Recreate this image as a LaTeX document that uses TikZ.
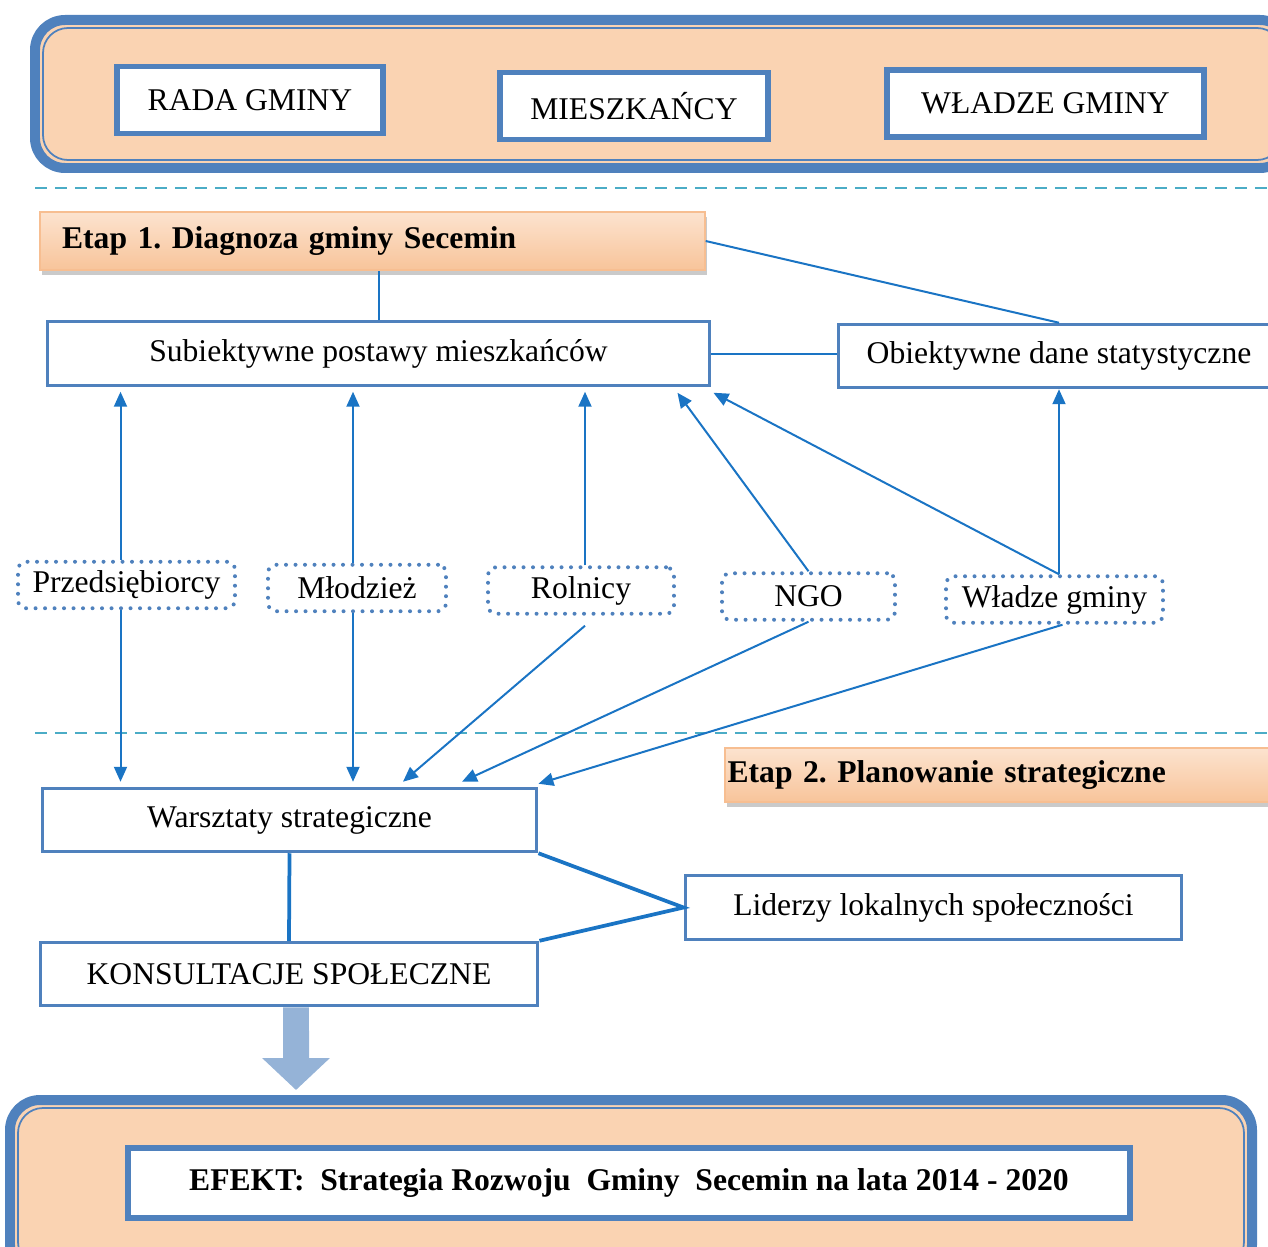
\documentclass[tikz,border=0pt]{standalone}
\usepackage{fontspec}
\setmainfont{Liberation Serif}
\frenchspacing
\usetikzlibrary{arrows.meta,shadows}
\usetikzlibrary{positioning}
\definecolor{boxblue}{HTML}{4F81BD}
\definecolor{linkblue}{HTML}{1A74C4}
\definecolor{peach}{HTML}{FAD3B2}
\definecolor{peachtop}{HTML}{FCE3CF}
\definecolor{peachbot}{HTML}{F8C49A}
\definecolor{etapline}{HTML}{F7BE91}
\definecolor{sepcyan}{HTML}{4BACC6}
\definecolor{bigblue}{HTML}{95B3D7}
\tikzstyle{frame} = [draw=boxblue, line width=0.2cm, fill=peach, rounded corners=0.6cm]
\tikzstyle{frameline} = [draw=boxblue, line width=0.035cm, rounded corners=0.5cm]
\tikzstyle{actor} = [rectangle, draw=boxblue, line width=0.11cm, fill=white, minimum height=1.34cm, text centered, font=\fontsize{18}{21}\selectfont]
\tikzstyle{box} = [rectangle, draw=boxblue, line width=0.06cm, fill=white, minimum height=1.27cm, text centered, font=\fontsize{18}{21}\selectfont]
\tikzstyle{group} = [rectangle, rounded corners=0.16cm, draw=boxblue, line width=0.08cm, dash pattern=on 0pt off 0.19cm, line cap=round, minimum height=0.93cm, text centered, font=\fontsize{18}{21}\selectfont]
\tikzstyle{etap} = [rectangle, draw=etapline, line width=0.03cm, top color=peachtop, middle color=white!85!peachtop, bottom color=peachbot, drop shadow={shadow xshift=0.04cm, shadow yshift=-0.1cm, fill=black!35, opacity=0.6}, minimum height=1.16cm, align=left, font=\bfseries\fontsize{18}{21}\selectfont]
\tikzstyle{sep} = [draw=sepcyan, line width=0.04cm, dash pattern=on 0.24cm off 0.16cm]
\tikzstyle{link} = [draw=linkblue, line width=0.04cm]
\tikzstyle{flow} = [link, -{Triangle[length=0.3cm,width=0.26cm]}]
\tikzstyle{thick link} = [draw=linkblue, line width=0.075cm]

\begin{document}
\begin{tikzpicture}[x=0.02cm, y=-0.02cm]
\useasboundingbox (0,0) rectangle (1268,1247);

% top frame
\draw[frame] (35,20) rectangle (1290,168);
\draw[frameline] (43,28) rectangle (1282,160);
\node (rada) [actor, minimum width=5.32cm] at (250,100) {RADA GMINY};
\node (mieszk) [actor, minimum width=5.36cm] at (634,106) {MIESZKAŃCY};
\node (wladze) [actor, minimum width=6.34cm] at (1045.5,103.5) {WŁADZE GMINY};

\draw[sep] (35,188) -- (1268,188);

% etap 1
\node (etap1) [etap, text width=12.42cm, inner xsep=0.44cm] at (372.5,241) {Etap 1. Diagnoza gminy Secemin};
\node (subj) [box, minimum width=13.26cm] at (378.5,353.5) {Subiektywne postawy mieszkańców};
\node (obj) [box, minimum width=8.84cm] at (1059,356) {Obiektywne dane statystyczne};

\node (przed) [group, minimum width=4.34cm] at (126.5,585) {Przedsiębiorcy};
\node (mlodz) [group, minimum width=3.56cm] at (357,588) {Młodzież};
\node (roln) [group, minimum width=3.72cm] at (581,590.5) {Rolnicy};
\node (ngo) [group, minimum width=3.46cm] at (808.5,596.5) {NGO};
\node (wlgm) [group, minimum width=4.34cm] at (1054.5,599.5) {Władze gminy};

\draw[link] (subj.north) -- (subj.north |- etap1.south);
\draw[link] (etap1.east) -- (obj.north);
\draw[link] (subj.east) -- (subj.east -| obj.west);

\draw[flow] ([xshift=-0.12cm]przed.north) -- ([xshift=-0.12cm,yshift=-0.1cm]przed.north |- subj.south);
\draw[flow] ([xshift=-0.08cm]mlodz.north) -- ([xshift=-0.08cm,yshift=-0.1cm]mlodz.north |- subj.south);
\draw[flow] ([xshift=0.08cm]roln.north) -- ([xshift=0.08cm,yshift=-0.1cm]roln.north |- subj.south);
\draw[flow] (ngo.north) -- ([xshift=-0.68cm,yshift=-0.12cm]subj.south east);
\draw[flow] (wlgm.north -| obj.south) -- ([xshift=0.04cm,yshift=-0.12cm]subj.south east);
\draw[flow] (wlgm.north -| obj.south) -- (obj.south);

\draw[sep] (35,733) -- (1268,733);

% etap 2
\node (etap2) [etap, text width=11cm, inner xsep=0.05cm, minimum height=1.08cm] at (1002.5,775) {Etap 2. Planowanie strategiczne};
\node (warsz) [box, minimum width=9.9cm] at (289.5,820) {Warsztaty strategiczne};
\node (konsul) [box, minimum width=9.96cm] at (289,974) {KONSULTACJE SPOŁECZNE};
\node (lider) [box, minimum width=9.94cm] at (933.5,907.5) {Liderzy lokalnych społeczności};

\draw[flow] ([xshift=-0.12cm]przed.south) -- ([xshift=-0.12cm,yshift=0.1cm]przed.south |- warsz.north);
\draw[flow] ([xshift=-0.08cm]mlodz.south) -- ([xshift=-0.08cm,yshift=0.1cm]mlodz.south |- warsz.north);
\draw[flow] ([xshift=0.08cm,yshift=-0.2cm]roln.south) -- ([xshift=2.27cm,yshift=0.1cm]warsz.north);
\draw[flow] (ngo.south) -- ([xshift=3.45cm,yshift=0.1cm]warsz.north);
\draw[flow] ([xshift=0.16cm]wlgm.south) -- ([yshift=0.06cm]warsz.north east);

\draw[thick link] (warsz.south) -- (konsul.north);
\draw[thick link] (warsz.south east) -- (lider.west) -- (konsul.north east);

% efekt
\coordinate (efektin) at (296,1090);
\draw[draw=bigblue, line width=0.52cm, -{Triangle[length=0.64cm,width=1.32cm]}] ([xshift=0.14cm]konsul.south) -- (efektin);
\draw[frame] (10,1100) rectangle (1252,1275);
\draw[frameline] (18,1108) rectangle (1244,1267);
\node (efekt) [box, line width=0.13cm, minimum width=20.04cm, minimum height=1.4cm, font=\bfseries\fontsize{18}{21}\selectfont] at (629,1183) {EFEKT:\ \ Strategia Rozwoju\ \ Gminy\ \ Secemin na lata 2014 - 2020};
\end{tikzpicture}
\end{document}
